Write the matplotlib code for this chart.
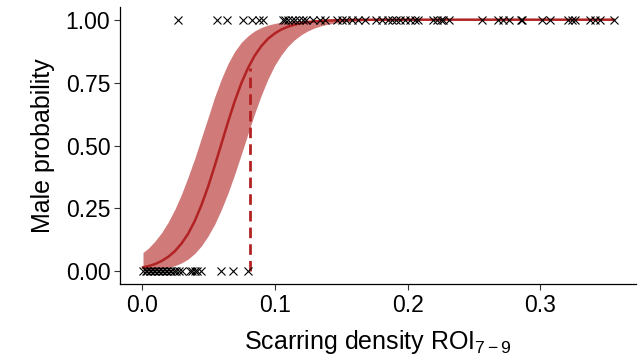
import matplotlib
matplotlib.use("Agg")
import matplotlib.pyplot as plt

plt.rcParams['font.family'] = ['Liberation Sans', 'DejaVu Sans']
plt.rcParams['mathtext.fontset'] = 'custom'
plt.rcParams['mathtext.rm'] = 'Liberation Sans'
plt.rcParams['mathtext.it'] = 'Liberation Sans'

# observed scarring densities (females = 0, males = 1)
x_female = [0.0013, 0.003, 0.004, 0.006, 0.007, 0.009, 0.010, 0.012, 0.013, 0.015,
            0.016, 0.018, 0.019, 0.021, 0.022, 0.024, 0.026, 0.028, 0.030,
            0.036, 0.038, 0.040, 0.042, 0.045, 0.060, 0.069, 0.080]
x_male = [0.027, 0.057, 0.064, 0.076, 0.083, 0.088, 0.091, 0.106, 0.108, 0.110,
          0.113, 0.115, 0.118, 0.121, 0.124, 0.129, 0.134, 0.138, 0.147, 0.151,
          0.154, 0.158, 0.163, 0.168, 0.176, 0.181, 0.185, 0.188, 0.191, 0.194,
          0.198, 0.202, 0.206, 0.208, 0.219, 0.222, 0.225, 0.227, 0.231, 0.256,
          0.268, 0.272, 0.276, 0.285, 0.286, 0.301, 0.307, 0.321, 0.324, 0.326,
          0.337, 0.341, 0.345, 0.355]

# fitted logistic curve and 95% band
fit_x = [0.001, 0.005, 0.01, 0.015, 0.02, 0.025, 0.03, 0.035, 0.04, 0.045, 0.05,
         0.055, 0.06, 0.065, 0.07, 0.075, 0.08, 0.085, 0.09, 0.095, 0.10, 0.105,
         0.11, 0.115, 0.12, 0.125, 0.13, 0.135, 0.14,
         0.15, 0.16, 0.18, 0.20, 0.22, 0.25, 0.30, 0.355]
fit_p = [0.016, 0.0209, 0.029, 0.0414, 0.058, 0.0804, 0.111, 0.150, 0.201, 0.264,
         0.337, 0.420, 0.507, 0.594, 0.676, 0.748, 0.808, 0.857, 0.895, 0.924,
         0.945, 0.961, 0.972, 0.9803, 0.986, 0.9902, 0.993, 0.9951, 0.9966,
         0.9983, 0.9992, 0.9998, 1.0, 1.0, 1.0, 1.0, 1.0]
fit_hi = [0.075, 0.0921, 0.120, 0.154, 0.196, 0.247, 0.307, 0.376, 0.450, 0.531,
          0.612, 0.694, 0.765, 0.826, 0.874, 0.910, 0.936, 0.9556, 0.969, 0.9786,
          0.985, 0.9899, 0.9931, 0.9953, 0.9969, 0.9979, 0.9986, 0.999, 0.9994,
          0.9997, 0.9999, 1.0, 1.0, 1.0, 1.0, 1.0, 1.0]
fit_lo = [0.0032, 0.00446, 0.0067, 0.0101, 0.0152, 0.0227, 0.0337, 0.0494, 0.0717,
          0.1018, 0.141, 0.188, 0.246, 0.312, 0.386, 0.466, 0.547, 0.627, 0.700,
          0.764, 0.818, 0.860, 0.894, 0.920, 0.940, 0.9556, 0.967, 0.9756, 0.982,
          0.990, 0.9947, 0.9984, 0.9995, 0.9999, 1.0, 1.0, 1.0]

# threshold where predicted probability crosses cut-off
thresh_x = 0.0815
thresh_p = 0.81

red = '#b22222'

fig = plt.figure(figsize=(6.4, 3.55), dpi=100)
ax = fig.add_axes([0.1875, 0.2, 0.8065, 0.78])

ax.fill_between(fit_x, fit_lo, fit_hi, color=red, alpha=0.6, linewidth=0)
ax.plot(fit_x, fit_p, color=red, lw=1.8)
ax.plot([thresh_x, thresh_x], [0, thresh_p], color=red, lw=2, ls=(0, (3.8, 2.2)))
ax.plot(x_female, [0] * len(x_female), 'x', color='black', ms=6, mew=0.8)
ax.plot(x_male, [1] * len(x_male), 'x', color='black', ms=6, mew=0.8)

ax.set_xlim(-0.0163, 0.372)
ax.set_ylim(-0.05, 1.05)
ax.set_xticks([0.0, 0.1, 0.2, 0.3])
ax.set_xticklabels(['0.0', '0.1', '0.2', '0.3'])
ax.set_yticks([0, 0.25, 0.5, 0.75, 1.0])
ax.set_yticklabels(['0.00', '0.25', '0.50', '0.75', '1.00'])
ax.tick_params(labelsize=16.5, length=4, width=0.8, color='#333333', pad=3)
for s in ['top', 'right']:
    ax.spines[s].set_visible(False)
for s in ['left', 'bottom']:
    ax.spines[s].set_linewidth(0.9)

ax.set_xlabel('Scarring density ROI$_{7-9}$', fontsize=18, labelpad=8)
ax.set_ylabel('Male probability', fontsize=18, labelpad=8)

fig.savefig('out.png', dpi=100)
